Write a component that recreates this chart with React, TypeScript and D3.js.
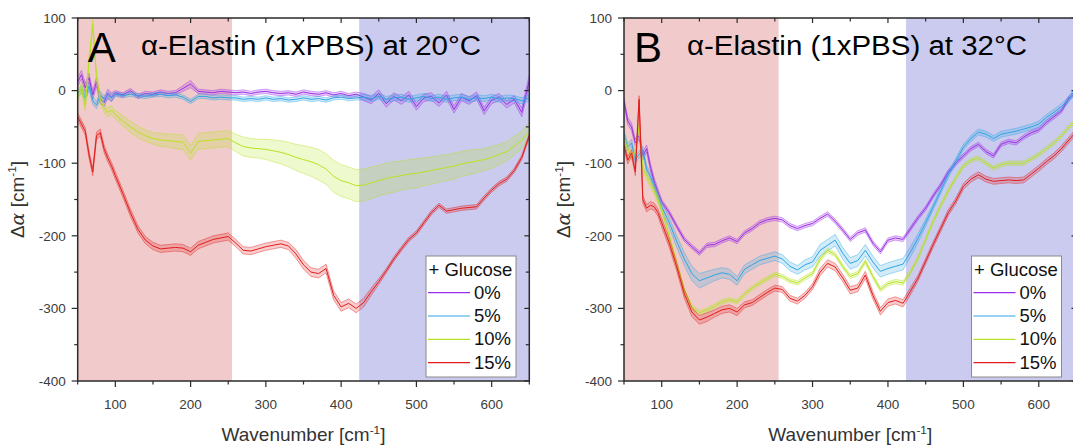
import React from 'react';
import * as d3 from 'd3';

// wavenumber grid shared by every curve [cm^-1]
const wavenumbers = [
  50, 55, 60, 65, 70, 75, 80, 85, 90, 95,
  100, 110, 120, 130, 140, 150, 160, 170, 180, 190,
  200, 210, 220, 230, 240, 250, 260, 270, 280, 290,
  300, 310, 320, 330, 340, 350, 360, 370, 380, 390,
  400, 410, 420, 430, 440, 450, 460, 470, 480, 490,
  500, 510, 520, 530, 540, 550, 560, 570, 580, 590,
  600, 610, 620, 630, 640, 650,
];

const glucoseLabels = ['0%', '5%', '10%', '15%'];
const xTicks = [100, 200, 300, 400, 500, 600];
const yTicks = [100, 0, -100, -200, -300, -400];
const lowBand = [50, 255];
const highBand = [424, 650];

// panel A: 20 °C
const at20_0 = [
  12, 22, 4, 18, -6, 12, -12, -16, -4, -9,
  -3, -6, 0, -8, -4, -5, -2, -4, -3, 3,
  9, -1, -2, -3, -1, -2, -3, -2, -4, -2,
  -1, -3, -4, -3, -5, -2, -4, -5, -3, -6,
  -4, -7, -5, -9, -13, -4, -18, -8, -14, -6,
  -22, -10, -8, -17, -6, -26, -9, -14, -7, -28,
  -13, -9, -19, -12, -30, 14,
];
const at20_0sd = [
  6, 6, 6, 6, 6, 6, 6, 6, 6, 6,
  3, 3, 3, 3, 3, 3, 3, 3, 3, 4,
  5, 3, 3, 3, 3, 3, 3, 3, 3, 3,
  3, 3, 3, 3, 3, 3, 3, 3, 3, 3,
  3, 3, 3, 5, 5, 5, 5, 5, 5, 5,
  5, 5, 5, 5, 5, 5, 5, 5, 5, 5,
  5, 5, 5, 5, 6, 8,
];
const at20_5 = [
  -4, 2, -10, 6, -14, -20, -6, -12, -7, -10,
  -5, -7, -5, -7, -8, -6, -5, -7, -6, -9,
  -15, -8, -8, -10, -9, -10, -10, -12, -11, -12,
  -10, -12, -11, -13, -12, -10, -12, -11, -13, -10,
  -9, -11, -10, -9, -11, -8, -12, -10, -9, -12,
  -10, -8, -11, -9, -12, -10, -9, -12, -10, -11,
  -9, -12, -10, -11, -14, -10,
];
const at20_5sd = [
  5, 5, 5, 5, 5, 5, 5, 5, 5, 5,
  3, 3, 3, 3, 3, 3, 3, 3, 3, 3,
  3, 3, 3, 3, 3, 3, 3, 3, 3, 3,
  3, 3, 3, 3, 3, 3, 3, 3, 3, 3,
  3, 3, 3, 4, 4, 4, 4, 4, 4, 4,
  4, 4, 4, 4, 4, 4, 4, 4, 4, 4,
  4, 4, 4, 4, 4, 4,
];
const at20_10 = [
  -10, 5, -22, 40, 92, 18, -12, -24, -30, -27,
  -33, -42, -50, -57, -62, -66, -68, -69, -70, -71,
  -86, -70, -69, -68, -67, -66, -72, -77, -79, -80,
  -81, -83, -85, -88, -92, -95, -98, -102, -108, -118,
  -124, -127, -131, -130, -127, -124, -121, -119, -117, -115,
  -114, -112, -110, -108, -106, -104, -101, -99, -97, -95,
  -92, -88, -84, -76, -68, -56,
];
const at20_10sd = [
  6, 6, 6, 6, 6, 6, 6, 6, 6, 6,
  6, 7, 8, 8, 8, 8, 9, 9, 10, 10,
  10, 11, 11, 11, 11, 11, 12, 13, 13, 13,
  14, 15, 16, 17, 18, 19, 20, 21, 21, 22,
  22, 22, 22, 22, 22, 21, 21, 21, 20, 20,
  20, 19, 19, 18, 18, 18, 17, 17, 16, 15,
  15, 14, 13, 13, 12, 12,
];
const at20_15 = [
  -36, -46, -56, -88, -112, -62, -58, -80, -93, -104,
  -117, -142, -168, -191, -206, -214, -218, -217, -216, -217,
  -222, -213, -209, -205, -203, -201, -210, -220, -221, -218,
  -215, -213, -211, -214, -225, -240, -250, -252, -245, -282,
  -298, -293, -300, -292, -277, -263, -248, -232, -218, -205,
  -196, -182, -168, -158, -166, -164, -162, -161, -160, -148,
  -137, -128, -122, -110, -92, -62,
];
const at20_15sd = [
  5, 5, 5, 5, 5, 5, 5, 5, 5, 5,
  5, 5, 5, 5, 5, 5, 5, 5, 5, 5,
  5, 5, 5, 5, 5, 5, 5, 5, 5, 5,
  5, 5, 5, 5, 6, 6, 6, 6, 6, 6,
  6, 6, 6, 6, 5, 4, 3, 3, 3, 3,
  3, 3, 3, 3, 3, 3, 3, 3, 3, 3,
  3, 3, 3, 3, 3, 3,
];

// panel B: 32 °C
const at32_0 = [
  -15, -42, -50, -72, -62, -90, -80, -105, -125, -140,
  -153, -168, -187, -205, -215, -224, -213, -212, -207, -203,
  -208, -196, -190, -182, -178, -176, -178, -186, -190, -186,
  -183, -176, -170, -180, -192, -205, -196, -192, -210, -222,
  -206, -203, -205, -190, -175, -162, -145, -130, -112, -100,
  -90, -80, -74, -84, -90, -74, -70, -72, -64, -58,
  -54, -44, -36, -28, -10, -2,
];
const at32_0sd = [
  5, 5, 5, 5, 5, 5, 5, 5, 5, 5,
  3, 3, 3, 3, 3, 3, 3, 3, 3, 3,
  3, 3, 3, 3, 3, 3, 3, 3, 3, 3,
  3, 3, 3, 3, 3, 3, 3, 3, 3, 3,
  3, 3, 3, 3, 3, 3, 3, 3, 3, 3,
  3, 3, 3, 3, 3, 3, 3, 3, 3, 3,
  3, 3, 3, 3, 3, 3,
];
const at32_5 = [
  -60, -78, -72, -95, -88, -82, -108, -118, -132, -146,
  -160, -182, -208, -232, -252, -262, -258, -254, -251, -253,
  -262, -246, -240, -234, -231, -228, -232, -242, -247, -240,
  -236, -220, -213, -206, -224, -238, -234, -220, -236, -249,
  -245, -242, -239, -222, -203, -182, -160, -138, -116, -97,
  -78, -66, -57, -60, -66, -60, -58, -56, -53, -50,
  -46, -37, -30, -22, -12, 4,
];
const at32_5sd = [
  5, 5, 5, 5, 5, 5, 5, 5, 5, 5,
  6, 7, 8, 9, 10, 10, 9, 8, 7, 7,
  6, 6, 6, 6, 6, 6, 6, 6, 6, 7,
  7, 8, 8, 8, 8, 8, 8, 8, 8, 8,
  8, 8, 8, 7, 6, 5, 4, 4, 4, 4,
  4, 4, 4, 4, 4, 4, 4, 4, 4, 4,
  4, 4, 4, 4, 4, 4,
];
const at32_10 = [
  -68, -80, -92, -84, -48, -108, -118, -128, -138, -150,
  -165, -200, -238, -275, -298, -306, -302, -297, -291, -288,
  -291, -280, -272, -265, -259, -253, -256, -262, -265, -258,
  -252, -232, -220, -226, -242, -256, -252, -235, -256, -274,
  -266, -263, -265, -250, -230, -205, -180, -158, -138, -120,
  -104, -96, -93, -100, -107, -102, -100, -100, -100, -94,
  -88, -80, -72, -62, -50, -40,
];
const at32_10sd = [
  5, 5, 5, 5, 5, 5, 5, 5, 5, 5,
  3, 3, 3, 3, 3, 3, 3, 3, 3, 3,
  3, 3, 3, 3, 3, 3, 3, 3, 3, 3,
  3, 3, 3, 3, 3, 3, 3, 3, 3, 3,
  3, 3, 3, 3, 3, 3, 3, 3, 3, 3,
  3, 3, 3, 3, 3, 3, 3, 3, 3, 3,
  3, 3, 3, 3, 3, 3,
];
const at32_15 = [
  -76, -96, -86, -112, -12, -150, -162, -158, -160, -168,
  -182, -210, -243, -280, -305, -316, -312, -307, -302, -300,
  -305, -295, -292, -285, -278, -272, -274, -286, -290, -282,
  -270, -250, -238, -243, -258, -275, -272, -254, -282, -304,
  -292, -289, -293, -276, -258, -235, -212, -190, -168, -152,
  -132, -122, -116, -122, -125, -124, -123, -124, -123, -115,
  -107, -98, -90, -80, -68, -56,
];
const at32_15sd = [
  5, 5, 5, 5, 5, 5, 5, 5, 5, 5,
  6, 6, 6, 6, 6, 6, 6, 5, 5, 5,
  5, 4, 4, 4, 4, 4, 4, 4, 4, 4,
  4, 5, 5, 5, 5, 5, 5, 5, 5, 5,
  5, 5, 5, 5, 4, 4, 4, 4, 4, 4,
  4, 4, 4, 4, 4, 4, 4, 4, 4, 4,
  4, 4, 4, 4, 4, 4,
];

const colors = ['#9a2ee6', '#2ea5e3', '#b5e31f', '#e31b1b'];
const font = '"Liberation Sans", Arial, sans-serif';
const top = 18;
const bottom = 381;

const Unit = ({ size }: { size: number }) => (
  <>
    [cm<tspan dy={-size * 0.38} fontSize={size * 0.62}>-1</tspan>
    <tspan dy={size * 0.38}>]</tspan>
  </>
);

type PanelProps = {
  id: string;
  left: number;
  right: number;
  letter: string;
  title: string;
  titleX: number;
  means: number[][];
  sds: number[][];
  legendX: number;
};

const Panel = ({ id, left, right, letter, title, titleX, means, sds, legendX }: PanelProps) => {
  const x = d3.scaleLinear().domain([50, 650]).range([left, right]);
  const y = d3.scaleLinear().domain([-400, 100]).range([bottom, top]);
  const idx = d3.range(wavenumbers.length);

  const lineOf = (vals: number[]) =>
    d3.line<number>().x(i => x(wavenumbers[i])).y(i => y(vals[i]))(idx) || '';
  const bandOf = (m: number[], s: number[]) =>
    d3.area<number>()
      .x(i => x(wavenumbers[i]))
      .y0(i => y(m[i] - s[i]))
      .y1(i => y(m[i] + s[i]))(idx) || '';

  const minorX = d3.range(50, 651, 50);
  const minorY = d3.range(-400, 101, 50);
  const axisColor = '#2b2b2b';
  const labelColor = '#3c3c3c';

  return (
    <g>
      <defs>
        <clipPath id={`clip-${id}`}>
          <rect x={left} y={top} width={right - left} height={bottom - top} />
        </clipPath>
      </defs>

      {/* shaded spectral regions */}
      <rect x={x(lowBand[0])} y={top} width={x(lowBand[1]) - x(lowBand[0])} height={bottom - top} fill="#f1cbcb" />
      <rect x={x(highBand[0])} y={top} width={x(highBand[1]) - x(highBand[0])} height={bottom - top} fill="#cbcbef" />

      <g clipPath={`url(#clip-${id})`}>
        {means.map((m, k) => (
          <g key={k}>
            <path d={bandOf(m, sds[k])} fill={colors[k]} fillOpacity={0.22} />
            <path d={lineOf(m.map((v, i) => v + sds[k][i]))} fill="none" stroke={colors[k]} strokeWidth={0.6} strokeOpacity={0.7} />
            <path d={lineOf(m.map((v, i) => v - sds[k][i]))} fill="none" stroke={colors[k]} strokeWidth={0.6} strokeOpacity={0.7} />
            <path d={lineOf(m)} fill="none" stroke={colors[k]} strokeWidth={1} strokeLinejoin="round" />
          </g>
        ))}
      </g>

      {/* frame */}
      <rect x={left} y={top} width={right - left} height={bottom - top} fill="none" stroke={axisColor} strokeWidth={1.5} />

      {/* ticks */}
      {minorX.map(v => {
        const major = v % 100 === 0;
        return (
          <g key={`x${v}`} stroke={axisColor} strokeWidth={1.2}>
            <line x1={x(v)} x2={x(v)} y1={bottom} y2={bottom + (major ? 6 : 3.5)} />
            <line x1={x(v)} x2={x(v)} y1={top} y2={top + (major ? 5 : 3.5)} />
          </g>
        );
      })}
      {minorY.map(v => {
        const major = v % 100 === 0;
        return (
          <g key={`y${v}`} stroke={axisColor} strokeWidth={1.2}>
            <line x1={left} x2={left - (major ? 6 : 3.5)} y1={y(v)} y2={y(v)} />
            <line x1={right} x2={right - (major ? 5 : 3.5)} y1={y(v)} y2={y(v)} />
          </g>
        );
      })}

      {xTicks.map(v => (
        <text key={`xl${v}`} x={x(v)} y={bottom + 28} textAnchor="middle" fontSize={13.5} fill={labelColor} fontFamily={font}>
          {v}
        </text>
      ))}
      {yTicks.map(v => (
        <text key={`yl${v}`} x={left - 12} y={y(v) + 4.8} textAnchor="end" fontSize={13.5} fill={labelColor} fontFamily={font}>
          {v}
        </text>
      ))}

      {/* axis titles */}
      <text x={(left + right) / 2} y={441} textAnchor="middle" fontSize={19} fill="#333" fontFamily={font}>
        Wavenumber <Unit size={19} />
      </text>
      <text
        transform={`translate(${left - 54},${(top + bottom) / 2}) rotate(-90)`}
        textAnchor="middle"
        fontSize={19}
        fill="#333"
        fontFamily={font}
      >
        Δ<tspan fontStyle="italic" fontFamily='"DejaVu Serif", serif'>α</tspan> <Unit size={19} />
      </text>

      {/* panel letter + title */}
      <text x={left + 10} y={62} fontSize={42} fill="#000" fontFamily={font}>{letter}</text>
      <text x={titleX} y={55} fontSize={27} fill="#000" fontFamily={font} textLength={340} lengthAdjust="spacingAndGlyphs">
        {title}
      </text>

      {/* legend */}
      <g fontFamily={font} fill="#111">
        <rect x={legendX} y={256} width={90} height={121} fill="#fff" stroke="#8a8a8a" strokeWidth={1} />
        <text x={legendX + 2.5} y={276} fontSize={18.5}>+ Glucose</text>
        {glucoseLabels.map((lab, k) => {
          const ly = 292.7 + k * 23.3;
          return (
            <g key={lab}>
              <line x1={legendX + 2} x2={legendX + 44} y1={ly} y2={ly} stroke={colors[k]} strokeWidth={1.2} />
              <text x={legendX + 48} y={ly + 6} fontSize={18.5}>{lab}</text>
            </g>
          );
        })}
      </g>
    </g>
  );
};

export default function App() {
  return (
    <svg
      width={1073}
      height={446}
      style={{ position: 'absolute', left: 0, top: 0, background: '#fff' }}
    >
      <rect width={1073} height={446} fill="#fff" />
      <Panel
        id="a"
        left={77.7}
        right={529.3}
        letter="A"
        title="α-Elastin (1xPBS) at 20°C"
        titleX={141}
        means={[at20_0, at20_5, at20_10, at20_15]}
        sds={[at20_0sd, at20_5sd, at20_10sd, at20_15sd]}
        legendX={426}
      />
      <Panel
        id="b"
        left={624}
        right={1076.5}
        letter="B"
        title="α-Elastin (1xPBS) at 32°C"
        titleX={687}
        means={[at32_0, at32_5, at32_10, at32_15]}
        sds={[at32_0sd, at32_5sd, at32_10sd, at32_15sd]}
        legendX={971.5}
      />
    </svg>
  );
}
